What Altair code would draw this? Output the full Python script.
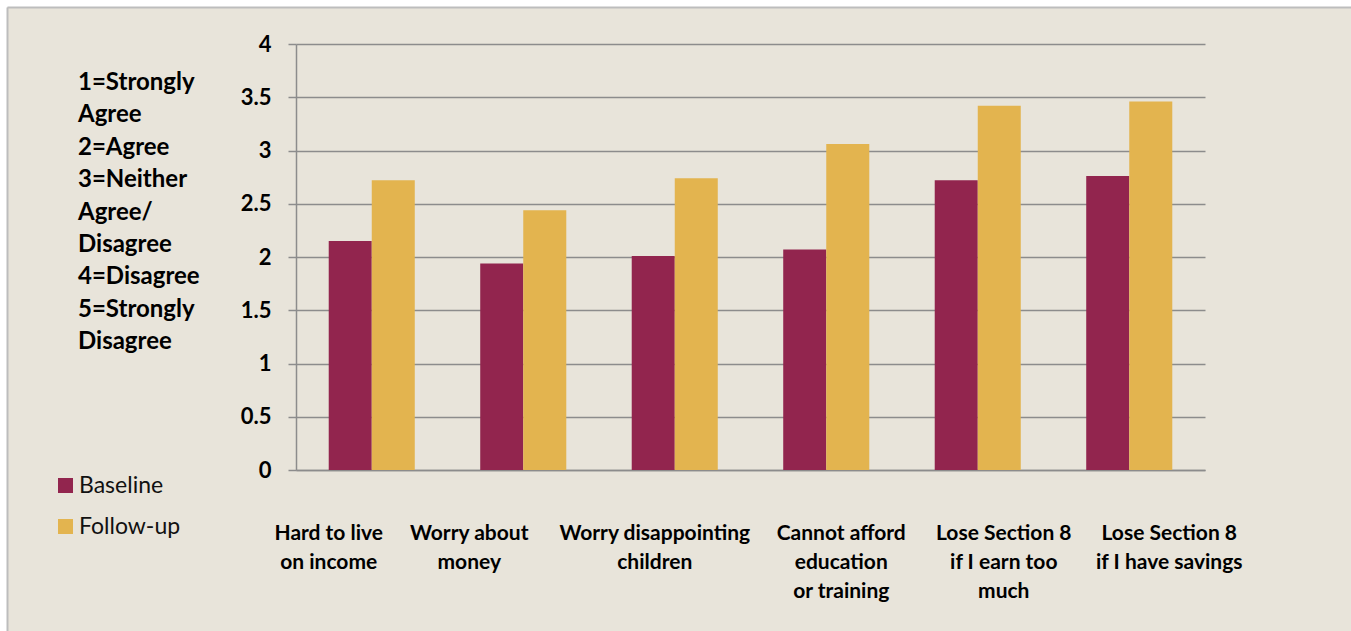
import altair as alt
import pandas as pd

categories = [
    "Hard to live\non income",
    "Worry about\nmoney",
    "Worry disappointing\nchildren",
    "Cannot afford\neducation\nor training",
    "Lose Section 8\nif I earn too\nmuch",
    "Lose Section 8\nif I have savings",
]
series_names = ["Baseline", "Follow-up"]
baseline = [2.15, 1.94, 2.01, 2.07, 2.72, 2.76]
followup = [2.72, 2.44, 2.74, 3.06, 3.42, 3.46]
y_ticks = [0, 0.5, 1, 1.5, 2, 2.5, 3, 3.5, 4]
scale_note = ["1=Strongly", "Agree", "2=Agree", "3=Neither", "Agree/",
              "Disagree", "4=Disagree", "5=Strongly", "Disagree"]
colors = ["#92254E", "#E3B44F"]

FONT = "Lato"
BG = "#E8E4DA"
GRID = "#8C8C8C"

rows = []
for c, b, f in zip(categories, baseline, followup):
    rows.append({"Category": c, "Series": "Baseline", "Value": b})
    rows.append({"Category": c, "Series": "Follow-up", "Value": f})
df = pd.DataFrame(rows)

# Excel-style uneven placement of the category labels
label_shift = alt.ExprRef("[-43, -54, -20, 15, 26, 40][round(datum.index * 5)]")

bars = alt.Chart(df).mark_bar(stroke=None).encode(
    x=alt.X("Category:N", sort=categories,
            scale=alt.Scale(paddingInner=0.432, paddingOuter=0.216),
            axis=alt.Axis(title=None, labelAngle=0, labelExpr="split(datum.label, '\\n')",
                          labelFont=FONT, labelFontSize=21, labelFontWeight="bold",
                          labelColor="#000000", labelLineHeight=29, labelPadding=52,
                          labelLimit=400, labelOverlap=False, labelOffset=label_shift,
                          ticks=False, domainColor=GRID, domainWidth=1.5,
                          labelBaseline="top", grid=False)),
    xOffset=alt.XOffset("Series:N", sort=series_names,
                        scale=alt.Scale(paddingInner=0, paddingOuter=0)),
    y=alt.Y("Value:Q", scale=alt.Scale(domain=[0, 4], nice=False),
            axis=alt.Axis(title=None, values=y_ticks, format="~g",
                          labelFont=FONT, labelFontSize=22, labelFontWeight="bold",
                          labelColor="#000000", labelPadding=17,
                          tickSize=8, tickColor=GRID, tickWidth=1.5,
                          domainColor=GRID, domainWidth=1.5,
                          grid=True, gridColor=GRID, gridWidth=1.5)),
    color=alt.Color("Series:N", sort=series_names,
                    scale=alt.Scale(domain=series_names, range=colors),
                    legend=alt.Legend(title=None, orient="none", legendX=-242, legendY=430,
                                      symbolType="square", symbolSize=225,
                                      symbolStrokeWidth=0, labelFont=FONT,
                                      labelFontSize=23, labelColor="#111111",
                                      labelOffset=2, rowPadding=17)),
)

one = pd.DataFrame({"k": [0]})

note = alt.Chart(one).mark_text(
    align="left", baseline="alphabetic", font=FONT, fontSize=24,
    fontWeight="bold", lineHeight=32.4, color="#000000"
).encode(x=alt.value(-218), y=alt.value(46), text=alt.value(scale_note))

left_strip = alt.Chart(one).mark_rect(color="#FFFFFF").encode(
    x=alt.value(-300), x2=alt.value(-289), y=alt.value(-50), y2=alt.value(600))
top_strip = alt.Chart(one).mark_rect(color="#FFFFFF").encode(
    x=alt.value(-300), x2=alt.value(1060), y=alt.value(-50), y2=alt.value(-37))
left_line = alt.Chart(one).mark_rule(color="#BDBDBD", strokeWidth=2).encode(
    x=alt.value(-288.5), y=alt.value(-36.5), y2=alt.value(600))
top_line = alt.Chart(one).mark_rule(color="#BDBDBD", strokeWidth=2).encode(
    x=alt.value(-288.5), x2=alt.value(1060), y=alt.value(-36.5))

chart = alt.layer(bars, note, left_strip, top_strip, left_line, top_line).properties(
    width=909, height=426,
    background=BG,
    padding={"left": 296, "top": 44, "right": 146, "bottom": 161},
    autosize=alt.AutoSizeParams(type="none"),
).configure_view(stroke=None)

chart.save("out.html", embed_options={"renderer": "svg", "actions": False})
